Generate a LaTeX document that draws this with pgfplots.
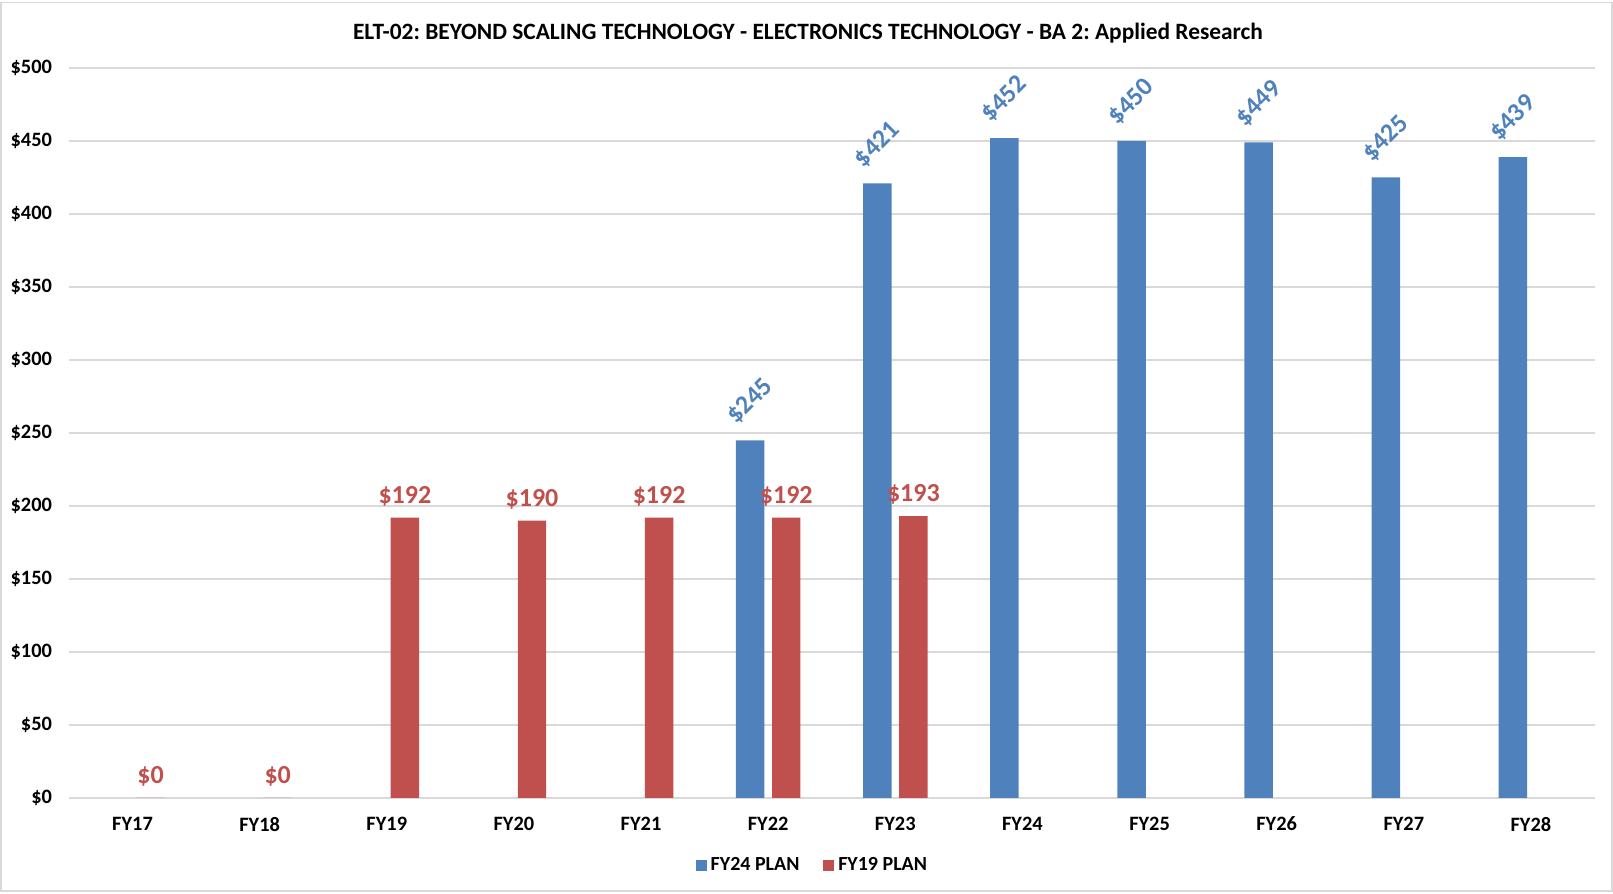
\documentclass[border=0pt]{standalone}
\usepackage{pgfplots}
\pgfplotsset{compat=1.18}
\usepackage{fontspec}
\setmainfont{Carlito}
\definecolor{blueC}{HTML}{4F81BD}
\definecolor{redC}{HTML}{C0504D}
\definecolor{gridC}{HTML}{D9D9D9}
\begin{document}
\frenchspacing
\begin{tikzpicture}
\useasboundingbox (0,0) rectangle (806.5pt,447pt);
\draw[color=gridC, line width=0.75pt] (0.6pt,1.6pt) rectangle (805.9pt,445.7pt);
\node[font=\bfseries\fontsize{11.7}{14}\selectfont, anchor=center] at (404pt,430.5pt) {ELT-02: BEYOND SCALING TECHNOLOGY - ELECTRONICS TECHNOLOGY - BA 2: Applied Research};
\begin{axis}[
  at={(34.5pt,48pt)}, anchor=south west,
  scale only axis, width=762.75pt, height=365pt,
  xmin=-0.5, xmax=11.5, ymin=0, ymax=500,
  xtick={0,...,11},
  xticklabels={FY17,FY18,FY19,FY20,FY21,FY22,FY23,FY24,FY25,FY26,FY27,FY28},
  ytick={0,50,...,500},
  yticklabels={\$0,\$50,\$100,\$150,\$200,\$250,\$300,\$350,\$400,\$450,\$500},
  /pgf/number format/assume math mode=true,
  axis line style={draw=none},
  major tick length=0pt,
  ymajorgrids,
  grid style={color=gridC, line width=0.75pt},
  tick label style={font=\bfseries\fontsize{10.2}{12}\selectfont},
  yticklabel style={xshift=-5pt},
  xticklabel style={yshift=-6pt},
  ybar, bar width=0.224,
  legend style={at={(axis description cs:0.488,-0.092)}, anchor=center, draw=none,
    legend columns=2, font=\bfseries\fontsize{10}{12}\selectfont,
    /tikz/every even column/.append style={column sep=10pt}},
]
\addplot[fill=blueC, draw=none, bar shift=-0.142,
  nodes near coords={\$\pgfmathprintnumber{\pgfplotspointmeta}},
  nodes near coords style={font=\bfseries\fontsize{13}{15}\selectfont, text=blueC, anchor=center, yshift=19.5pt, rotate=45},
  legend image code/.code={\fill[blueC] (0pt,-2.7pt) rectangle (5.4pt,2.7pt);}]
 coordinates {(5,245) (6,421) (7,452) (8,450) (9,449) (10,425) (11,439)};
\addlegendentry{FY24 PLAN}
\addplot[fill=redC, draw=none, bar shift=0.142,
  nodes near coords={\$\pgfmathprintnumber{\pgfplotspointmeta}},
  nodes near coords style={font=\bfseries\fontsize{13}{15}\selectfont, text=redC, anchor=center, yshift=10.8pt},
  legend image code/.code={\fill[redC] (0pt,-2.7pt) rectangle (5.4pt,2.7pt);}]
 coordinates {(0,0) (1,0) (2,192) (3,190) (4,192) (5,192) (6,193)};
\addlegendentry{FY19 PLAN}
\end{axis}
\end{tikzpicture}
\end{document}
